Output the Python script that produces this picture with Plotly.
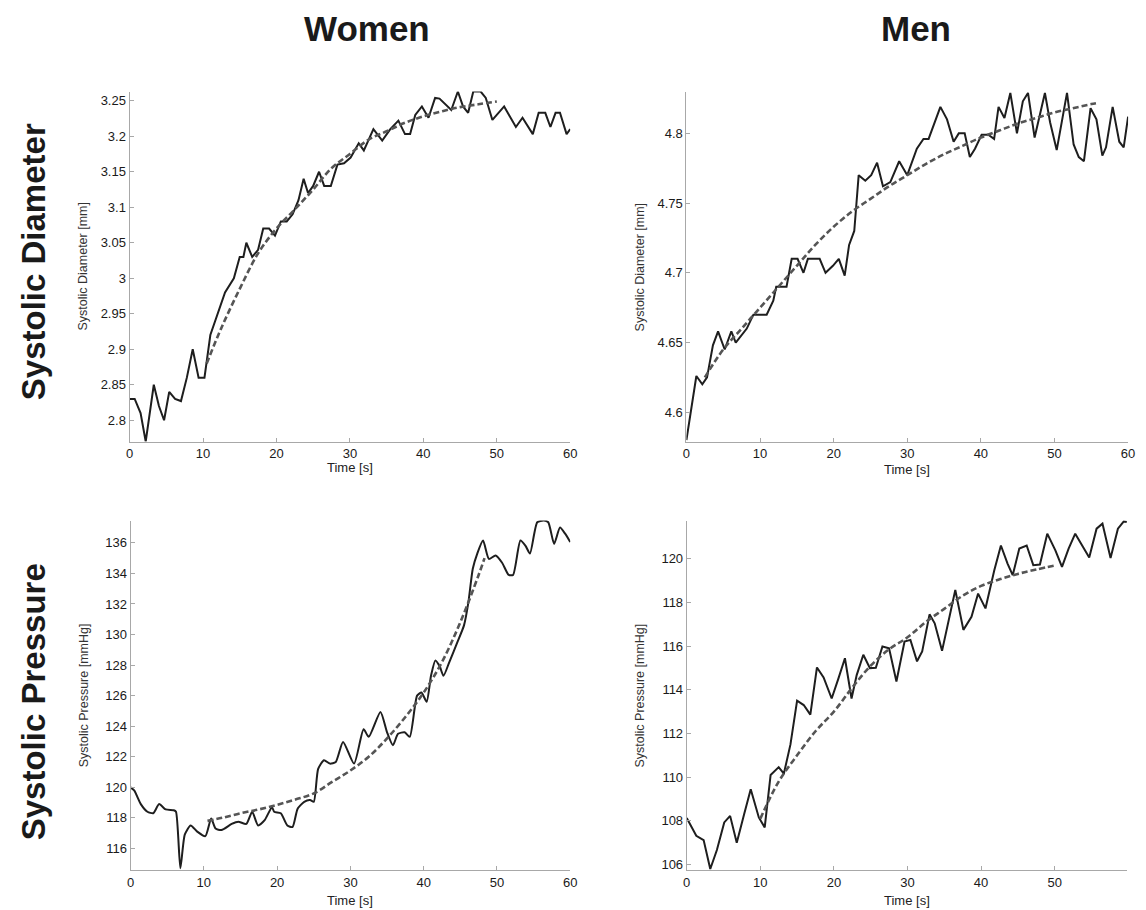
import plotly.graph_objects as go

W, H = 1146, 910      # reference picture size
PAGE_OFF = 8          # default page margin of the html body
FW, FH = W - PAGE_OFF, H - PAGE_OFF

# ---------------- data ----------------
# Women - systolic diameter
wd_t = [0, 0.7, 1.5, 2.2, 3.3, 4.0, 4.7, 5.4, 6.2, 7.0, 7.8, 8.6, 9.4, 10.2, 11.0, 12.0, 13.0,
        14.2, 15.0, 15.5, 15.9, 16.7, 17.5, 18.2, 19.0, 19.8, 20.6, 21.4, 22.2, 23.0, 23.7, 24.3,
        25.0, 25.8, 26.5, 27.4, 28.3, 29.2, 30.1, 31.2, 31.9, 33.2, 34.4, 35.5, 36.6, 37.5, 38.2,
        38.9, 39.8, 40.7, 41.6, 42.2, 43.8, 44.7, 45.4, 46.1, 46.8, 47.8, 48.5, 49.4, 51.0, 52.6,
        53.5, 54.9, 55.7, 56.6, 57.3, 58.0, 58.6, 59.5, 60.0]
wd_v = [2.83, 2.83, 2.81, 2.77, 2.85, 2.82, 2.80, 2.84, 2.83, 2.827, 2.86, 2.90, 2.86, 2.86,
        2.92, 2.95, 2.98, 3.00, 3.03, 3.03, 3.05, 3.03, 3.04, 3.07, 3.07, 3.06, 3.08, 3.08, 3.09,
        3.11, 3.14, 3.12, 3.13, 3.15, 3.13, 3.13, 3.16, 3.162, 3.17, 3.19, 3.18, 3.21, 3.194,
        3.21, 3.222, 3.203, 3.203, 3.23, 3.242, 3.226, 3.254, 3.253, 3.237, 3.263, 3.242, 3.233,
        3.263, 3.263, 3.254, 3.223, 3.242, 3.213, 3.226, 3.203, 3.233, 3.233, 3.213, 3.233,
        3.233, 3.203, 3.21]
wd_fit_t = [10.5, 12.5, 15, 17.5, 20, 22.5, 25, 27.5, 30, 32.5, 35, 37.5, 40, 42.5, 45, 47.5, 50]
wd_fit_v = [2.88, 2.93, 2.985, 3.035, 3.07, 3.097, 3.125, 3.155, 3.175, 3.195, 3.207, 3.219,
            3.228, 3.235, 3.241, 3.245, 3.249]

# Men - systolic diameter
md_t = [0, 1.35, 2.16, 2.8, 3.6, 4.3, 5.2, 6.1, 6.7, 7.4, 8.2, 9.1, 9.8, 10.9, 11.8, 12.2, 13.6,
        14.3, 15.1, 15.9, 16.5, 18.1, 18.9, 19.9, 20.7, 21.5, 22.1, 22.8, 23.4, 24.3, 25.1, 25.9,
        26.7, 27.7, 28.9, 30.0, 31.3, 32.2, 32.9, 34.5, 35.4, 36.3, 37.0, 37.8, 38.5, 39.2, 40.1,
        41.0, 41.8, 42.4, 43.2, 44.0, 44.9, 45.7, 46.4, 47.3, 48.7, 49.4, 50.3, 51.7, 52.6, 53.3,
        54.0, 54.9, 55.7, 56.5, 57.0, 57.9, 58.8, 59.4, 60.0]
md_v = [4.58, 4.626, 4.62, 4.625, 4.648, 4.658, 4.645, 4.658, 4.65, 4.655, 4.66, 4.67, 4.67,
        4.67, 4.68, 4.69, 4.69, 4.71, 4.71, 4.70, 4.71, 4.71, 4.70, 4.705, 4.71, 4.698, 4.72,
        4.73, 4.77, 4.766, 4.77, 4.779, 4.762, 4.765, 4.78, 4.77, 4.789, 4.796, 4.796, 4.819,
        4.81, 4.794, 4.80, 4.80, 4.783, 4.789, 4.799, 4.799, 4.796, 4.819, 4.811, 4.829, 4.80,
        4.823, 4.829, 4.797, 4.829, 4.808, 4.788, 4.829, 4.792, 4.783, 4.78, 4.818, 4.81, 4.784,
        4.79, 4.819, 4.794, 4.79, 4.812]
md_fit_t = [2.5, 5, 7.5, 10, 12.5, 15, 17.5, 20, 22.5, 25, 27.5, 30, 32.5, 35, 37.5, 40, 42.5,
            45, 47.5, 50, 52.5, 55, 56]
md_fit_v = [4.625, 4.645, 4.66, 4.675, 4.69, 4.705, 4.72, 4.733, 4.744, 4.753, 4.762, 4.77,
            4.778, 4.785, 4.791, 4.797, 4.802, 4.807, 4.811, 4.815, 4.818, 4.821, 4.822]

# Women - systolic pressure
wp_t = [0, 0.5, 1.4, 2.3, 3.1, 3.9, 4.8, 5.9, 6.2, 6.8, 7.4, 8.2, 9.1, 10.2, 11.0, 11.6, 12.4,
        13.8, 14.7, 15.8, 16.6, 17.4, 18.3, 19.3, 19.6, 20.5, 21.4, 22.1, 22.8, 23.7, 24.5, 25.0,
        25.6, 26.4, 27.2, 28.0, 29.0, 30.5, 31.8, 32.5, 34.1, 35.0, 35.8, 36.5, 37.4, 38.1, 39.1,
        39.7, 40.4, 41.0, 41.6, 42.2, 42.7, 43.5, 44.6, 45.5, 46.1, 46.7, 47.3, 48.1, 48.9, 49.8,
        50.7, 51.6, 52.2, 53.2, 53.9, 54.5, 55.5, 56.4, 57.0, 57.8, 58.6, 59.3, 60.0]
wp_v = [120.0, 119.8, 118.9, 118.4, 118.3, 118.9, 118.55, 118.5, 118.4, 114.7, 116.9, 117.5,
        117.1, 116.8, 117.96, 117.3, 117.2, 117.6, 117.75, 117.6, 118.4, 117.5, 117.85, 118.7,
        118.4, 118.3, 117.5, 117.4, 118.6, 119.05, 119.16, 119.05, 121.2, 121.77, 121.55,
        121.66, 122.97, 121.55, 123.8, 123.3, 124.93, 123.6, 122.75, 123.5, 123.6, 123.3, 126.0,
        126.2, 125.6, 127.3, 128.3, 127.9, 127.3, 128.2, 129.5, 130.6, 132.1, 134.3, 135.28,
        136.15, 134.95, 135.17, 134.7, 133.9, 133.9, 136.15, 135.8, 135.3, 137.35, 137.46,
        137.35, 135.93, 137.0, 136.6, 136.05]
wp_fit_t = [10.5, 12.5, 15, 17.5, 20, 22.5, 25, 27.5, 30, 32.5, 35, 37.5, 40, 42.5, 45, 47.5, 48.3]
wp_fit_v = [117.8, 118.0, 118.3, 118.55, 118.85, 119.2, 119.6, 120.35, 121.1, 122.0, 123.2,
            124.6, 126.2, 128.2, 130.8, 133.9, 135.0]

# Men - systolic pressure
mp_t = [0, 0.6, 1.3, 2.3, 3.2, 4.1, 5.1, 5.9, 6.8, 7.8, 8.7, 9.8, 10.6, 11.4, 12.5, 13.2, 14.1,
        15.0, 15.9, 16.8, 17.7, 18.6, 19.7, 20.6, 21.5, 22.4, 23.1, 24.0, 24.9, 25.7, 26.6, 27.5,
        28.5, 29.6, 30.4, 31.3, 32.0, 33.0, 33.7, 34.7, 35.6, 36.5, 37.6, 38.7, 39.6, 40.6, 41.8,
        42.7, 43.6, 44.3, 45.2, 46.2, 47.1, 48.0, 49.0, 50.1, 51.0, 51.9, 52.8, 53.7, 54.7, 55.7,
        56.5, 57.6, 58.6, 59.4, 59.8]
mp_v = [108.13, 107.78, 107.32, 107.12, 105.8, 106.67, 107.93, 108.23, 107.0, 108.3, 109.45,
        108.16, 107.7, 110.1, 110.46, 110.16, 111.5, 113.5, 113.3, 112.86, 115.02, 114.56, 113.6,
        114.5, 115.44, 113.6, 114.67, 115.6, 114.99, 115.0, 115.98, 115.9, 114.38, 116.2, 116.28,
        115.3, 115.75, 117.45, 117.04, 115.78, 117.1, 118.56, 116.74, 117.34, 118.4, 117.72,
        119.47, 120.6, 119.77, 119.24, 120.46, 120.6, 119.7, 119.73, 121.14, 120.38, 119.62,
        120.46, 121.14, 120.6, 120.05, 121.37, 121.6, 120.03, 121.37, 121.7, 121.67]
mp_fit_t = [10, 12.5, 15, 17.5, 20, 22.5, 25, 27.5, 30, 32.5, 35, 37.5, 40, 42.5, 45, 47.5, 50.3]
mp_fit_v = [108.1, 109.8, 111.0, 112.1, 113.0, 114.1, 115.1, 115.85, 116.4, 117.1, 117.7,
            118.3, 118.75, 119.05, 119.3, 119.5, 119.7]

col_titles = ["Women", "Men"]
row_titles = ["Systolic Diameter", "Systolic Pressure"]
y_titles = ["Systolic Diameter [mm]", "Systolic Pressure [mmHg]"]
x_title = "Time [s]"

# ---------------- layout helpers (reference pixel -> paper) ----------------
def px_x(p):
    return (p - PAGE_OFF) / FW

def px_y(p):
    return 1 - (p - PAGE_OFF) / FH

panels = [
    dict(t=wd_t, v=wd_v, ft=wd_fit_t, fv=wd_fit_v, xd=(126.7, 571.7), yd=(91.7, 442.5),
         yr=[2.77, 3.263], xr=[0, 60], yt=[2.8, 2.85, 2.9, 2.95, 3.0, 3.05, 3.1, 3.15, 3.2, 3.25],
         ytt=["2.8", "2.85", "2.9", "2.95", "3", "3.05", "3.1", "3.15", "3.2", "3.25"],
         xt=[0, 10, 20, 30, 40, 50, 60], shape="linear", ytitle=y_titles[0], xtgap=26.5),
    dict(t=md_t, v=md_v, ft=md_fit_t, fv=md_fit_v, xd=(689.0, 1135.0), yd=(91.7, 442.5),
         yr=[4.579, 4.83], xr=[0, 60], yt=[4.6, 4.65, 4.7, 4.75, 4.8],
         ytt=["4.6", "4.65", "4.7", "4.75", "4.8"],
         xt=[0, 10, 20, 30, 40, 50, 60], shape="linear", ytitle=y_titles[0], xtgap=28.5),
    dict(t=wp_t, v=wp_v, ft=wp_fit_t, fv=wp_fit_v, xd=(127.7, 571.7), yd=(521.7, 872.0),
         yr=[114.58, 137.46], xr=[0, 60], yt=list(range(116, 137, 2)),
         ytt=[str(v) for v in range(116, 137, 2)],
         xt=[0, 10, 20, 30, 40, 50, 60], shape="spline", ytitle=y_titles[1], xtgap=30),
    dict(t=mp_t, v=mp_v, ft=mp_fit_t, fv=mp_fit_v, xd=(689.3, 1134.0), yd=(521.7, 872.0),
         yr=[105.75, 121.74], xr=[0, 59.85], yt=list(range(106, 121, 2)),
         ytt=[str(v) for v in range(106, 121, 2)],
         xt=[0, 10, 20, 30, 40, 50], shape="linear", ytitle=y_titles[1], xtgap=30),
]

fig = go.Figure()
annotations = []
font_family = "Liberation Sans, Arial, sans-serif"

for i, p in enumerate(panels):
    n = "" if i == 0 else str(i + 1)
    xa, ya = "x" + n, "y" + n
    line = dict(color="#1e1e1e", width=2, shape=p["shape"])
    if p["shape"] == "spline":
        line["smoothing"] = 0.6
    fig.add_trace(go.Scatter(x=p["t"], y=p["v"], mode="lines", line=line,
                             xaxis=xa, yaxis=ya, showlegend=False, hoverinfo="skip"))
    fig.add_trace(go.Scatter(x=p["ft"], y=p["fv"], mode="lines",
                             line=dict(color="#555555", width=2.6, dash="6px,3px", shape="spline"),
                             xaxis=xa, yaxis=ya, showlegend=False, hoverinfo="skip"))
    axcommon = dict(showline=True, linecolor="#a8a8a8", linewidth=1, ticks="inside",
                    ticklen=4, tickcolor="#a8a8a8", showgrid=False, zeroline=False,
                    tickfont=dict(family=font_family, size=13, color="#1a1a1a"))
    fig.update_layout(**{
        ("xaxis" + n): dict(domain=[px_x(p["xd"][0]), px_x(p["xd"][1])], range=p["xr"],
                            anchor=ya, tickvals=p["xt"], **axcommon),
        ("yaxis" + n): dict(domain=[px_y(p["yd"][1]), px_y(p["yd"][0])], range=p["yr"],
                            anchor=xa, tickvals=p["yt"], ticktext=p["ytt"], **axcommon),
    })
    # y-axis title
    annotations.append(dict(text=p["ytitle"], x=px_x(p["xd"][0] - 47),
                            y=px_y((p["yd"][0] + p["yd"][1]) / 2),
                            xref="paper", yref="paper", textangle=-90, showarrow=False,
                            xanchor="center", yanchor="middle",
                            font=dict(family=font_family, size=12.5, color="#333333")))
    # x-axis title
    annotations.append(dict(text=x_title, x=px_x((p["xd"][0] + p["xd"][1]) / 2),
                            y=px_y(p["yd"][1] + p["xtgap"]), xref="paper", yref="paper",
                            showarrow=False, xanchor="center", yanchor="middle",
                            font=dict(family=font_family, size=13, color="#222222")))

# column titles
for txt, cx in zip(col_titles, [366, 921]):
    annotations.append(dict(text="<b>" + txt + "</b>", x=px_x(cx), y=px_y(29), xref="paper",
                            yref="paper", showarrow=False, xanchor="center", yanchor="middle",
                            font=dict(family=font_family, size=35, color="#1a1a1a")))
# row titles
for txt, cy in zip(row_titles, [262, 703]):
    annotations.append(dict(text="<b>" + txt + "</b>", x=px_x(30), y=px_y(cy), xref="paper",
                            yref="paper", showarrow=False, textangle=-90, xanchor="center",
                            yanchor="middle",
                            font=dict(family=font_family, size=33, color="#1a1a1a")))

fig.update_layout(width=FW, height=FH, margin=dict(l=0, r=0, t=0, b=0),
                  paper_bgcolor="white", plot_bgcolor="white",
                  annotations=annotations)

fig.write_html("out.html")
